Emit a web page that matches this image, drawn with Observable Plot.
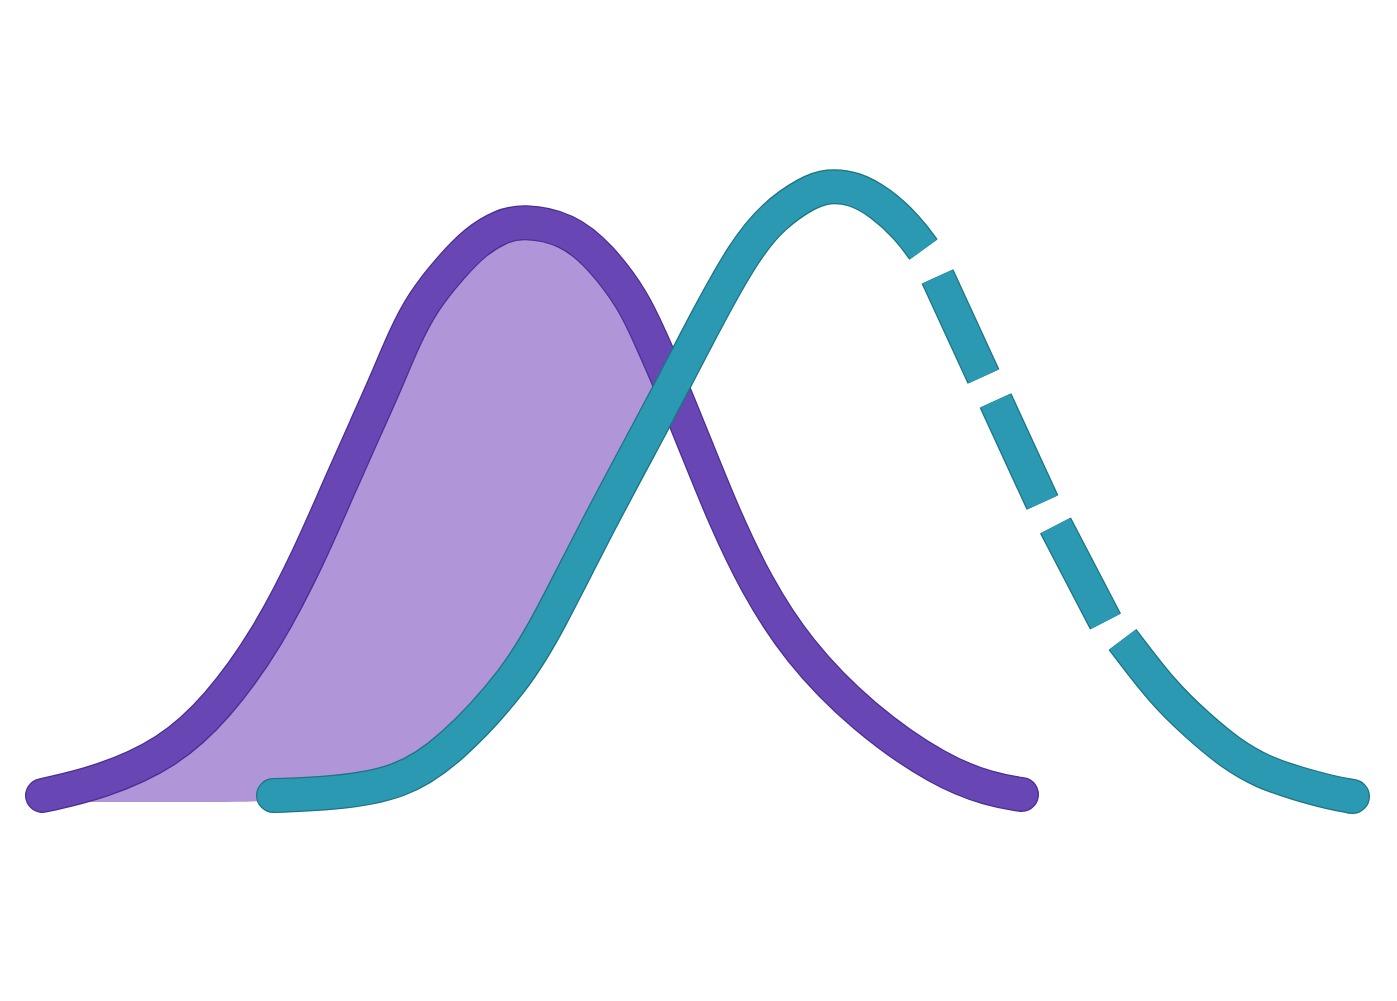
<!DOCTYPE html>
<html>
<head>
<meta charset="utf-8">
<script src="https://cdn.jsdelivr.net/npm/d3@7"></script>
<script src="https://cdn.jsdelivr.net/npm/@observablehq/plot@0.6"></script>
<style>
  html, body { margin: 0; padding: 0; background: #fff; }
  #chart { width: 1397px; height: 1001px; }
</style>
</head>
<body>
<div id="chart"></div>
<script>
// purple curve (left distribution)
const purpleX = [4.2, 10.0, 16.7, 21.7, 26.7, 31.0, 33.7, 36.7, 38.5, 40.4, 42.2, 44.9, 47.6, 50.0, 52.2, 56.7, 60.0, 63.3, 65.0, 67.0, 69.7, 72.4, 75.5, 79.7, 86.2, 94.0, 99.0, 102.1]
const purpleY = [0.5, 1.8, 4.7, 9.3, 16.2, 24.7, 31.0, 37.7, 41.7, 46.3, 49.8, 53.2, 56.0, 57.4, 58.0, 57.2, 54.4, 50.0, 46.2, 41.7, 35.0, 28.3, 21.7, 15.0, 8.3, 2.9, 1.1, 0.6]

// teal curve (right distribution): solid start, three dashes, solid tail
const tealPart = ['solid1','solid1','solid1','solid1','solid1','solid1','solid1','solid1','solid1','solid1','solid1','solid1','solid1','solid1','solid1','solid1','solid1','solid1',
                  'dash1','dash1','dash2','dash2','dash3','dash3',
                  'solid2','solid2','solid2','solid2','solid2','solid2','solid2','solid2']
const tealX = [27.3, 33.3, 40.0, 45.0, 51.6, 54.8, 59.8, 65.2, 67.3, 70.7, 74.4, 77.3, 80.7, 82.7, 85.3, 88.0, 90.7, 92.3,
               93.7, 98.3, 99.5, 104.2, 105.5, 110.5,
               112.2, 116.3, 119.7, 123.0, 126.3, 129.7, 133.0, 135.2]
const tealY = [0.5, 0.7, 1.7, 5.0, 12.2, 17.7, 27.7, 37.7, 41.7, 48.3, 55.0, 58.5, 60.8, 61.5, 61.3, 59.8, 57.3, 55.1,
               52.4, 42.4, 40.0, 29.8, 27.5, 17.9,
               16.1, 10.7, 7.5, 4.7, 2.8, 1.7, 0.8, 0.4]

// shaded region under the purple curve, above the teal curve / baseline
const fillX = [4.2, 10.0, 16.7, 21.7, 26.7, 31.0, 33.7, 36.7, 38.5, 40.4, 42.2, 44.9, 47.6, 50.0, 52.2, 56.7, 60.0, 63.3, 65.0, 67.2]
const fillTop = [0.5, 1.8, 4.7, 9.3, 16.2, 24.7, 31.0, 37.7, 41.7, 46.3, 49.8, 53.2, 56.0, 57.4, 58.0, 57.2, 54.4, 50.0, 46.2, 41.3]
const fillBottom = [-0.2, -0.2, -0.2, -0.2, -0.2, 0.6, 0.7, 1.1, 1.4, 1.9, 2.9, 4.9, 7.9, 10.4, 13.2, 21.5, 28.1, 34.2, 37.4, 41.3]

const purple = purpleX.map((x, i) => ({x, y: purpleY[i]}))
const teal = tealX.map((x, i) => ({x, y: tealY[i], part: tealPart[i]}))
const shade = fillX.map((x, i) => ({x, y1: fillBottom[i], y2: fillTop[i]}))

const tealEnds = [teal[0], teal[teal.length - 1]]

const PURPLE = '#6847b5', PURPLE_EDGE = '#4a2f96'
const TEAL = '#2a99b1', TEAL_EDGE = '#1d7482'

let chart = Plot.plot({
  width: 1397,
  height: 1001,
  margin: 0,
  x: {domain: [0, 139.7], axis: null},
  y: {domain: [-20.1, 80], axis: null},
  style: {background: '#fff'},
  marks: [
    Plot.areaY(shade, {x: 'x', y1: 'y1', y2: 'y2', fill: '#b096d9', curve: 'basis'}),

    Plot.line(purple, {x: 'x', y: 'y', stroke: PURPLE_EDGE, strokeWidth: 35, strokeLinecap: 'round', curve: 'basis'}),
    Plot.line(purple, {x: 'x', y: 'y', stroke: PURPLE, strokeWidth: 32.5, strokeLinecap: 'round', curve: 'basis'}),

    // teal: butt ends between dashes, rounded outer ends
    Plot.line(teal, {x: 'x', y: 'y', z: 'part', stroke: TEAL_EDGE, strokeWidth: 35, strokeLinecap: 'butt', curve: 'basis'}),
    Plot.dot(tealEnds, {x: 'x', y: 'y', r: 17.5, fill: TEAL_EDGE}),
    Plot.dot(tealEnds, {x: 'x', y: 'y', r: 16.25, fill: TEAL}),
    Plot.line(teal, {x: 'x', y: 'y', z: 'part', stroke: TEAL, strokeWidth: 32.5, strokeLinecap: 'butt', curve: 'basis'}),
  ]
})

d3.select('#chart').append(() => chart)
</script>
</body>
</html>
